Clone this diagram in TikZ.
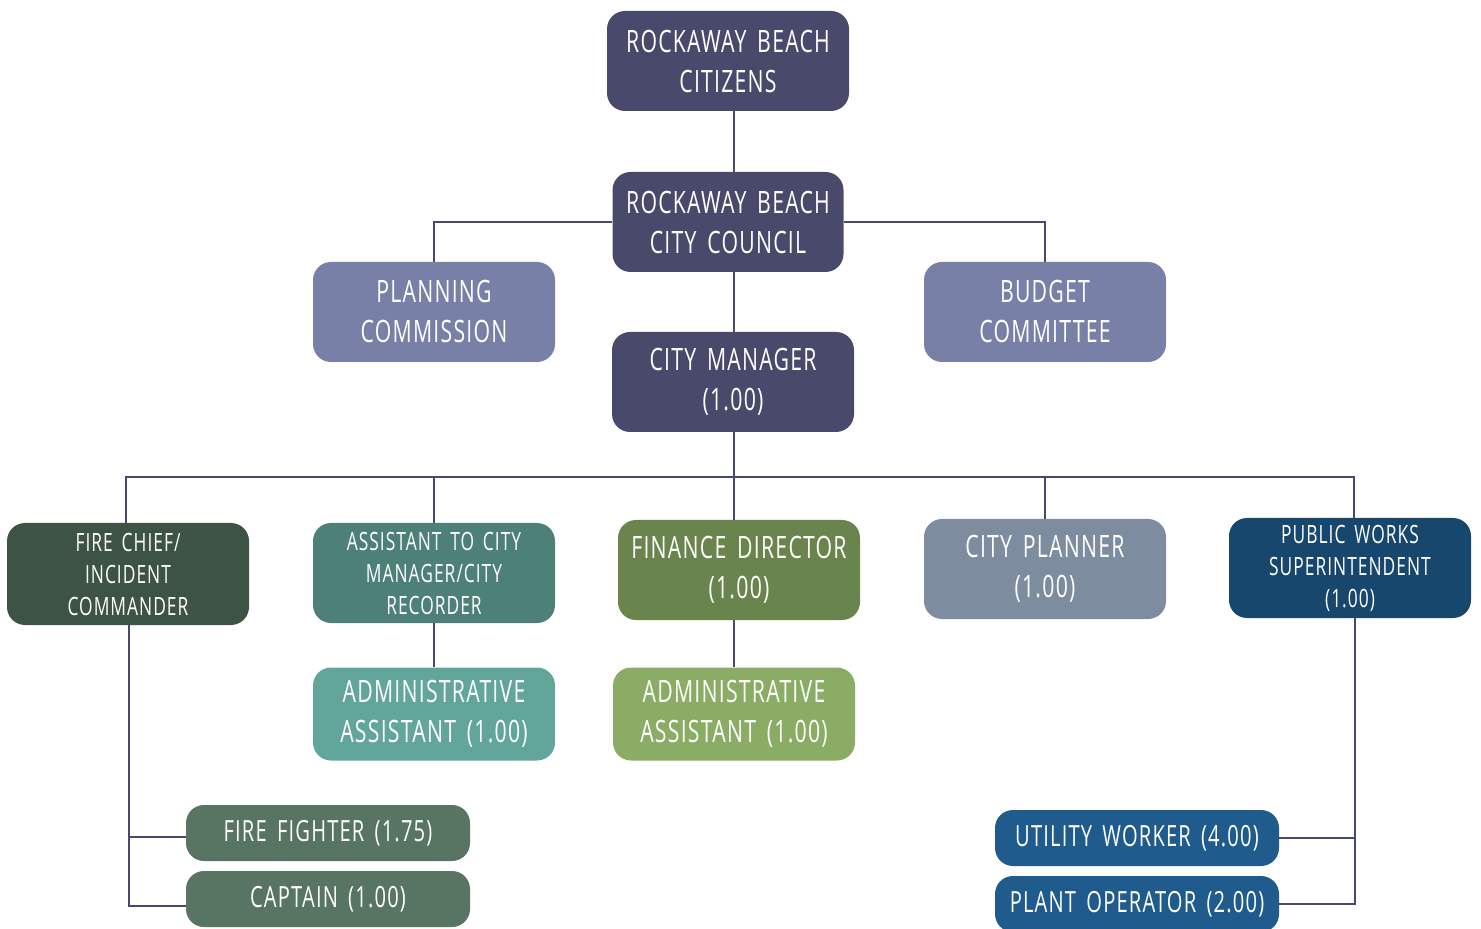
\documentclass[tikz,border=0pt]{standalone}
\usepackage{fontspec}
\setmainfont{Open Sans}[FakeStretch=0.69,LetterSpace=4,WordSpace=1.6]
\begin{document}
\begin{tikzpicture}[x=0.5pt,y=-0.5pt,
  box/.style={rounded corners=9pt,text=white,align=center,inner sep=0pt,
    minimum width=121pt,minimum height=50pt,font=\fontsize{15.4}{20}\selectfont},
  small/.style={font=\fontsize{12.6}{16}\selectfont},
  wide/.style={minimum width=142pt,minimum height=28pt,font=\fontsize{14.6}{20}\selectfont},
  conn/.style={draw=linec,line width=1pt}]
\definecolor{navy}{HTML}{494A6B}
\definecolor{lav}{HTML}{7880A8}
\definecolor{firec}{HTML}{3D5346}
\definecolor{asstc}{HTML}{4D8078}
\definecolor{finc}{HTML}{6A844D}
\definecolor{planc}{HTML}{7D8C9E}
\definecolor{pwc}{HTML}{18476E}
\definecolor{adma}{HTML}{62A59B}
\definecolor{admb}{HTML}{8AAC64}
\definecolor{ffc}{HTML}{587462}
\definecolor{uwc}{HTML}{1F5B8C}
\definecolor{linec}{HTML}{474A6E}
\useasboundingbox (0,0) rectangle (1481,929);

\node[box,fill=navy] (cit) at (728,61) {ROCKAWAY BEACH\\CITIZENS};
\node[box,fill=navy,minimum width=115.5pt] (cc) at (728,222) {ROCKAWAY BEACH\\CITY COUNCIL};
\node[box,fill=lav] (pc) at (434,312) {PLANNING\\COMMISSION};
\node[box,fill=lav] (bc) at (1045,312) {BUDGET\\COMMITTEE};
\node[box,fill=navy] (cm) at (733,382) {CITY MANAGER\\(1.00)};

\node[box,small,fill=firec,minimum height=51pt] (fc) at (128,574) {FIRE CHIEF/\\INCIDENT\\COMMANDER};
\node[box,small,fill=asstc] (as) at (434,573) {ASSISTANT TO CITY\\MANAGER/CITY\\RECORDER};
\node[box,fill=finc] (fd) at (739,570) {FINANCE DIRECTOR\\(1.00)};
\node[box,fill=planc] (cp) at (1045,569) {CITY PLANNER\\(1.00)};
\node[box,small,fill=pwc] (pw) at (1350,568) {PUBLIC WORKS\\SUPERINTENDENT\\(1.00)};

\node[box,fill=adma,minimum height=46.5pt] (aa) at (434,714) {ADMINISTRATIVE\\ASSISTANT (1.00)};
\node[box,fill=admb,minimum height=46.5pt] (ab) at (734,714) {ADMINISTRATIVE\\ASSISTANT (1.00)};

\node[box,wide,fill=ffc] (ff) at (328,833) {FIRE FIGHTER (1.75)};
\node[box,wide,fill=ffc] (cap) at (328,899) {CAPTAIN (1.00)};
\node[box,wide,fill=uwc] (uw) at (1137,838) {UTILITY WORKER (4.00)};
\node[box,wide,fill=uwc] (po) at (1137,904) {PLANT OPERATOR (2.00)};

\coordinate (bus) at (734,477);

\draw[conn] ([xshift=3pt]cit.south) -- ([xshift=3pt]cc.north);
\draw[conn] (pc.north) |- (cc.west);
\draw[conn] (bc.north) |- (cc.east);
\draw[conn] ([xshift=3pt]cc.south) -- ([xshift=0.5pt]cm.north);
\draw[conn] ([xshift=0.5pt]cm.south) -- (bus);
\draw[conn] ([xshift=-1pt]fc.north) |- (bus);
\draw[conn] (as.north) |- (bus);
\draw[conn] ([xshift=-2.5pt]fd.north) |- (bus);
\draw[conn] (cp.north) |- (bus);
\draw[conn] ([xshift=2pt]pw.north) |- (bus);
\draw[conn] (as.south) -- (aa.north);
\draw[conn] ([xshift=-2.5pt]fd.south) -- (ab.north);
\draw[conn] ([xshift=0.5pt]fc.south) |- ([yshift=-2pt]ff.west);
\draw[conn] ([xshift=0.5pt]fc.south) |- ([yshift=-3.5pt]cap.west);
\draw[conn] ([xshift=2.5pt]pw.south) |- (uw.east);
\draw[conn] ([xshift=2.5pt]pw.south) |- (po.east);
\end{tikzpicture}
\end{document}
